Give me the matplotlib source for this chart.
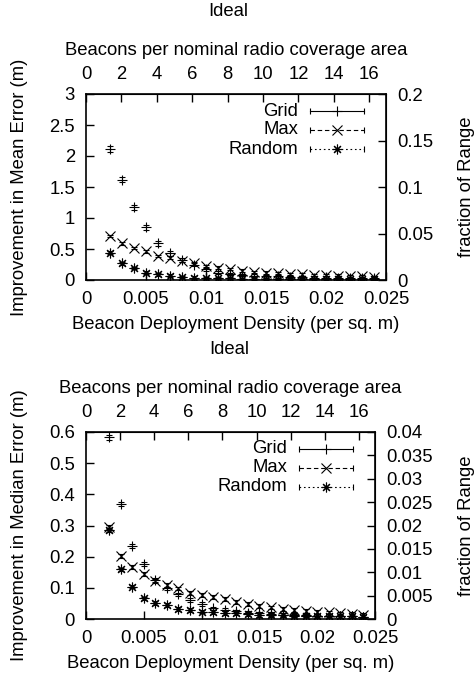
import matplotlib
matplotlib.use("Agg")
import matplotlib.pyplot as plt
import matplotlib.transforms as mtransforms
import numpy as np

plt.rcParams['font.family'] = ['Liberation Sans', 'DejaVu Sans']
plt.rcParams['font.size'] = 13.3

# beacon density (per sq. m)
density = [0.002, 0.003, 0.004, 0.005, 0.006, 0.007, 0.008, 0.009, 0.010, 0.011, 0.012, 0.013,
           0.014, 0.015, 0.016, 0.017, 0.018, 0.019, 0.020, 0.021, 0.022, 0.023, 0.024]

# improvement in mean error (m)
mean_grid = [2.11, 1.62, 1.17, 0.85, 0.59, 0.43, 0.32, 0.25, 0.17, 0.12, 0.10, 0.08,
             0.07, 0.06, 0.06, 0.05, 0.05, 0.04, 0.04, 0.04, 0.03, 0.03, 0.03]
mean_grid_err = [0.05, 0.04, 0.04, 0.04, 0.04, 0.04, 0.03, 0.03, 0.03, 0.03, 0.02, 0.02,
                 0.02, 0.02, 0.02, 0.02, 0.02, 0.02, 0.02, 0.02, 0.02, 0.02, 0.02]
mean_max = [0.71, 0.59, 0.52, 0.46, 0.39, 0.36, 0.31, 0.27, 0.23, 0.20, 0.18, 0.15,
            0.13, 0.12, 0.11, 0.10, 0.09, 0.08, 0.08, 0.07, 0.06, 0.06, 0.05]
mean_max_err = [0.02] * 23
mean_random = [0.44, 0.27, 0.19, 0.12, 0.09, 0.07, 0.05, 0.04, 0.03, 0.03, 0.03, 0.02,
               0.02, 0.02, 0.02, 0.02, 0.02, 0.02, 0.02, 0.02, 0.02, 0.02, 0.02]
mean_random_err = [0.02] * 23

# improvement in median error (m)
median_grid = [0.583, 0.368, 0.234, 0.176, 0.125, 0.098, 0.079, 0.061, 0.047, 0.035, 0.030, 0.025,
               0.020, 0.018, 0.016, 0.014, 0.013, 0.012, 0.011, 0.010, 0.009, 0.009, 0.008]
median_grid_err = [0.008, 0.007, 0.007, 0.007, 0.006, 0.006, 0.006, 0.006, 0.006, 0.005, 0.005, 0.005,
                   0.005, 0.005, 0.005, 0.005, 0.005, 0.005, 0.005, 0.005, 0.005, 0.005, 0.005]
median_max = [0.296, 0.203, 0.168, 0.144, 0.123, 0.109, 0.098, 0.084, 0.077, 0.070, 0.063, 0.055,
              0.047, 0.042, 0.037, 0.032, 0.028, 0.025, 0.023, 0.021, 0.018, 0.015, 0.012]
median_max_err = [0.006] * 23
median_random = [0.286, 0.159, 0.104, 0.066, 0.052, 0.045, 0.031, 0.028, 0.024, 0.022, 0.020, 0.018,
                 0.016, 0.014, 0.013, 0.012, 0.011, 0.011, 0.010, 0.010, 0.009, 0.009, 0.008]
median_random_err = [0.006] * 23

labels = ['Grid', 'Max', 'Random']
radio_range = 15.0      # right axis is error / range
nominal_area = 678.0    # top axis is density * area

asterisk = (8, 2, 0)
markers = ['+', 'x', asterisk]
styles = ['-', (0, (4, 2.5)), (0, (1.5, 2.5))]

fig = plt.figure(figsize=(4.74, 6.81), dpi=100)
ax1 = fig.add_axes([86 / 474, 1 - 280 / 681, 300 / 474, 186 / 681])
ax2 = fig.add_axes([86 / 474, 1 - 619 / 681, 289 / 474, 187 / 681])


def legend_key(ax, row, label, ls, marker):
    # offsets in pixels from top-right corner of the axes
    t = fig.dpi_scale_trans + mtransforms.ScaledTranslation(1, 1, ax.transAxes)
    y = -(17 + 19 * row) / 100
    ax.text(-88 / 100, y, label, transform=t, ha='right', va='center')
    ax.plot([-0.76, -0.22], [y, y], transform=t, color='black', lw=0.8, ls=ls, clip_on=False)
    ax.plot([-0.76, -0.22], [y, y], transform=t, color='black', ls='none', marker='|',
            markersize=5, markeredgewidth=0.8, clip_on=False)
    ax.plot([-0.49], [y], transform=t, color='black', ls='none', marker=marker,
            markersize=7, markeredgewidth=0.8, clip_on=False)


def draw_panel(ax, series, errs, ylim, yticks, y2ticks, ylabel):
    for vals, err, m, ls in zip(series, errs, markers, styles):
        eb = ax.errorbar(density, vals, yerr=err, fmt='none', ecolor='black',
                         elinewidth=0.8, capsize=2.5, capthick=0.8)
        eb[2][0].set_linestyle(ls)
        ax.plot(density, vals, ls='none', marker=m, color='black',
                markersize=7, markeredgewidth=0.8)
    for i, (lab, m, ls) in enumerate(zip(labels, markers, styles)):
        legend_key(ax, i, lab, ls, m)

    ax.set_xlim(0, 0.025)
    ax.set_ylim(*ylim)
    ax.set_xticks([0, 0.005, 0.01, 0.015, 0.02, 0.025])
    ax.set_xticklabels(['0', '0.005', '0.01', '0.015', '0.02', '0.025'])
    ax.set_yticks(yticks)
    ax.set_yticklabels([('%g' % v) for v in yticks])
    ax.tick_params(direction='in', length=5.5, width=1, pad=8)
    for s in ax.spines.values():
        s.set_linewidth(1.2)
    ax.set_xlabel('Beacon Deployment Density (per sq. m)', labelpad=6)
    ax.set_ylabel(ylabel, labelpad=15)

    top = ax.secondary_xaxis('top', functions=(lambda d: d * nominal_area,
                                               lambda b: b / nominal_area))
    top.set_xticks(np.arange(0, 17, 2))
    top.tick_params(direction='in', length=5.5, width=1, pad=8)
    top.set_xlabel('Beacons per nominal radio coverage area', labelpad=8)

    right = ax.secondary_yaxis('right', functions=(lambda y: y / radio_range,
                                                   lambda f: f * radio_range))
    right.set_yticks(y2ticks)
    right.set_yticklabels([('%g' % v) for v in y2ticks])
    right.tick_params(direction='in', length=5.5, width=1, pad=8)
    right.set_ylabel('fraction of Range', labelpad=18)


draw_panel(ax1, [mean_grid, mean_max, mean_random],
           [mean_grid_err, mean_max_err, mean_random_err],
           (0, 3), [0, 0.5, 1, 1.5, 2, 2.5, 3],
           [0, 0.05, 0.1, 0.15, 0.2], 'Improvement in Mean Error (m)')
draw_panel(ax2, [median_grid, median_max, median_random],
           [median_grid_err, median_max_err, median_random_err],
           (0, 0.6), [0, 0.1, 0.2, 0.3, 0.4, 0.5, 0.6],
           [0, 0.005, 0.01, 0.015, 0.02, 0.025, 0.03, 0.035, 0.04],
           'Improvement in Median Error (m)')

fig.text(228 / 474, 1 - 12 / 681, 'Ideal', ha='center', va='center')
fig.text(229 / 474, 1 - 349 / 681, 'Ideal', ha='center', va='center')

fig.savefig('out.png', dpi=100)
